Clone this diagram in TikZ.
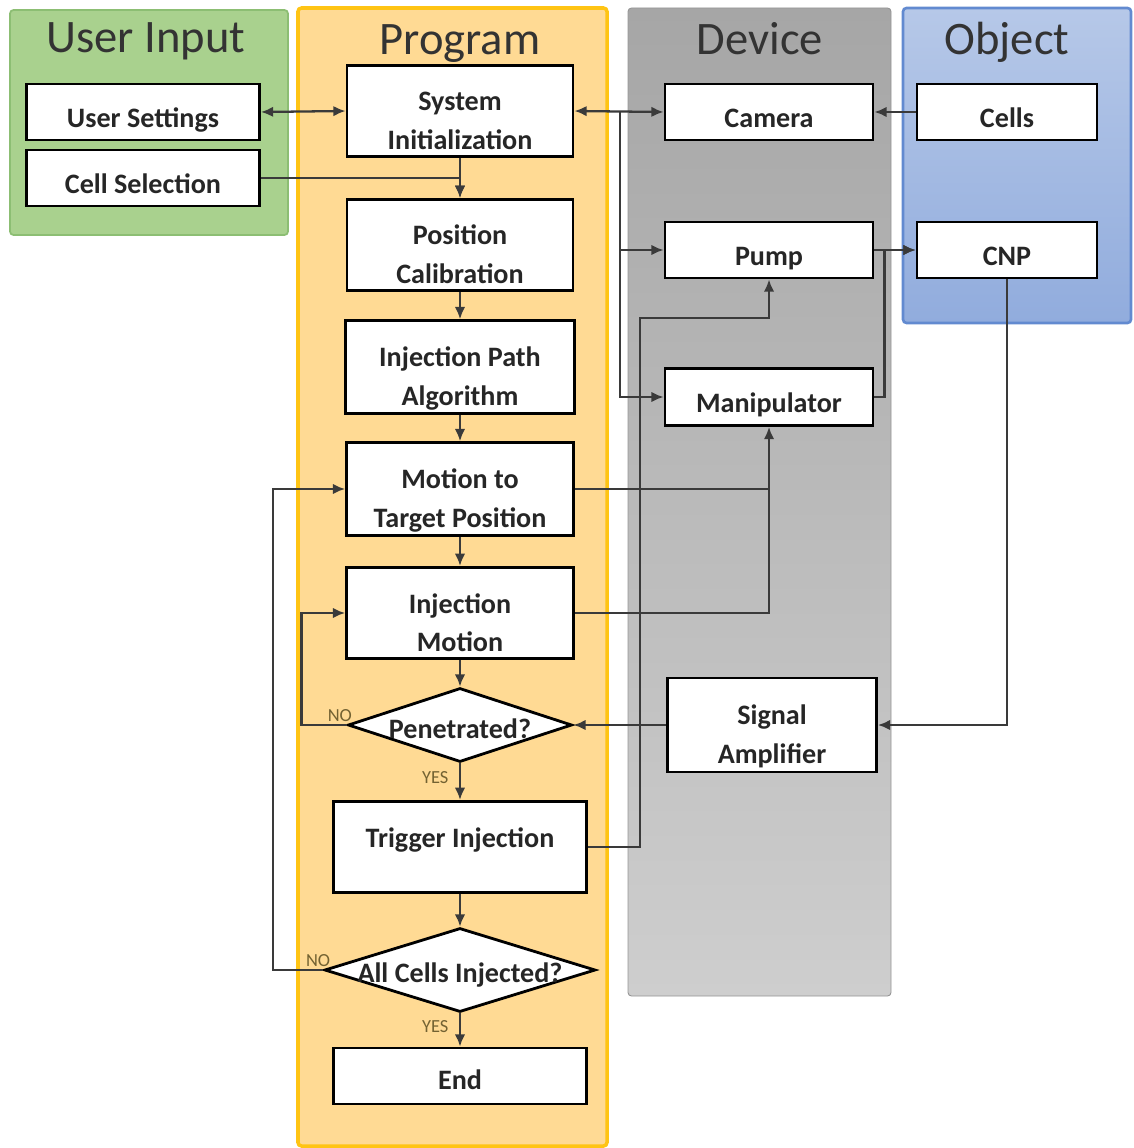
\documentclass[tikz,border=0pt]{standalone}
\usepackage{fontspec}
\setmainfont{Carlito}
\usetikzlibrary{arrows.meta,shapes.geometric}
\definecolor{inputgreen}{RGB}{169,209,142}
\definecolor{inputedge}{RGB}{140,190,115}
\definecolor{progfill}{RGB}{255,218,148}
\definecolor{progedge}{RGB}{255,196,20}
\definecolor{devtop}{RGB}{166,166,166}
\definecolor{devbot}{RGB}{206,206,206}
\definecolor{objtop}{RGB}{182,200,232}
\definecolor{objbot}{RGB}{145,172,221}
\definecolor{objedge}{RGB}{98,138,208}
\definecolor{wire}{RGB}{58,58,58}
\definecolor{choice}{RGB}{115,98,50}

\begin{document}
\begin{tikzpicture}[x=0.02cm, y=-0.02cm,
    boxfont/.style={font=\fontsize{16}{22}\selectfont\bfseries, text=black!85,
      execute at begin node={\rule{0pt}{#1}}, execute at end node={\rule[-2pt]{0pt}{2pt}}},
    boxfont/.default=17pt,
    box/.style={draw=black, line width=1.6pt, fill=white, inner sep=2pt, align=center, boxfont=#1},
    box/.default=20pt,
    twolines/.style={box=46pt},
    decide/.style={draw=black, line width=1.6pt, fill=white, diamond, inner sep=0pt},
    title/.style={font=\fontsize{26.5}{30}\selectfont, text=black!80, anchor=base},
    wireline/.style={draw=wire, line width=1.3pt},
    arr/.style={wireline, -{Latex[length=7pt,width=6pt]}},
    dblarr/.style={wireline, {Latex[length=7pt,width=6pt]}-{Latex[length=7pt,width=6pt]}},
    choicelabel/.style={font=\fontsize{10.5}{11}\selectfont, text=choice, inner sep=1pt}]
		\useasboundingbox (0,0) rectangle (1133,1148);
		%%%%% LANES %%%%%
		\draw[draw=inputedge, line width=1pt, fill=inputgreen, rounded corners=2pt] (10,10) rectangle (288,235);
		\draw[draw=progedge, line width=2pt, fill=progfill, rounded corners=2pt] (298,8) rectangle (607,1146);
		\draw[draw=devtop!90!black, line width=0.5pt, top color=devtop, bottom color=devbot, rounded corners=2pt] (628,8) rectangle (891,996);
		\draw[draw=objedge, line width=1.5pt, top color=objtop, bottom color=objbot, rounded corners=2pt] (903,8) rectangle (1131,323);
		
		\node[title] (tinput) at (146,53) {User Input};
		\node[title] (tprog) at (460,55) {Program};
		\node[title] (tdev) at (760,55) {Device};
		\node[title] (tobj) at (1007,55) {Object};
		
		%%%%% BOXES %%%%%
		\node[box, minimum width=4.66cm, minimum height=1.12cm] (uset) at (143,112) {User Settings};
		\node[box, minimum width=4.66cm, minimum height=1.12cm] (cellsel) at (143,178) {Cell Selection};
		
		\node[twolines, minimum width=4.52cm, minimum height=1.82cm] (sysinit) at (460,111) {System\\Initialization};
		\node[twolines, minimum width=4.52cm, minimum height=1.82cm] (poscal) at (460,245) {Position\\Calibration};
		\node[twolines, minimum width=4.58cm, minimum height=1.82cm] (injpath) at (460,367) {Injection Path\\Algorithm};
		\node[twolines, minimum width=4.54cm, minimum height=1.82cm] (motion) at (460,489) {Motion to\\Target Position};
		\node[twolines, minimum width=4.54cm, minimum height=1.80cm] (injmot) at (460,613) {Injection\\Motion};
		\node[decide, minimum width=4.48cm, minimum height=1.48cm,
		  label={[boxfont]center:Penetrated?}] (pen) at (460,725) {};
		\node[twolines, minimum width=5.06cm, minimum height=1.80cm] (trig) at (460,847) {Trigger Injection\\\mbox{}};
		\node[decide, minimum width=5.42cm, minimum height=1.68cm,
		  label={[boxfont]center:All Cells Injected?}] (allc) at (460,970) {};
		\node[box=17pt, minimum width=5.06cm, minimum height=1.12cm] (endb) at (460,1076) {End};
		
		\node[box, minimum width=4.16cm, minimum height=1.12cm] (camera) at (769,112) {Camera};
		\node[box, minimum width=4.16cm, minimum height=1.12cm] (pump) at (769,250) {Pump};
		\node[box, minimum width=4.16cm, minimum height=1.14cm] (manip) at (769,397) {Manipulator};
		\node[twolines, minimum width=4.18cm, minimum height=1.88cm] (sigamp) at (772,725) {Signal\\Amplifier};
		
		\node[box, minimum width=3.6cm, minimum height=1.12cm] (cells) at (1007,112) {Cells};
		\node[box, minimum width=3.6cm, minimum height=1.12cm] (cnp) at (1007,250) {CNP};
		
		%%%%% CONNECTORS %%%%%
		\coordinate (split) at (620,112);
		\coordinate (trigup) at (640,318);
		
		\draw[dblarr] (uset.east) -- (sysinit.west);
		\draw[arr] (cellsel.east) -- (cellsel.east -| poscal.north) -- (poscal.north);
		\draw[arr] (sysinit.south) -- (poscal.north);
		\draw[arr] (poscal) -- (injpath);
		\draw[arr] (injpath) -- (motion);
		\draw[arr] (motion) -- (injmot);
		\draw[arr] (injmot) -- (pen);
		\draw[arr] (pen.south) -- node[choicelabel, left=5pt, pos=0.4] {YES} (trig.north);
		\draw[arr] (trig) -- (allc);
		\draw[arr] (allc.south) -- node[choicelabel, left=5pt, pos=0.4] {YES} (endb.north);
		
		\draw[dblarr] (sysinit.east) -- (camera.west);
		\draw[arr] (split) |- (pump.west);
		\draw[arr] (split) |- (manip.west);
		\draw[arr] (cells) -- (camera);
		\draw[arr] (pump) -- (cnp);
		\draw[arr] (manip.east) -- ++(10,0) |- (cnp.west);
		\draw[arr] (cnp.south) |- (sigamp.east);
		\draw[arr] (sigamp.west) -- (pen.east);
		
		\draw[arr] (motion.east) -| (manip.south);
		\draw[wireline] (injmot.east) -| (manip.south |- motion.east);
		\draw[arr] (trig.east) -| (trigup) -| (pump.south);
		
		\draw[arr] (pen.west) -- node[choicelabel, above, pos=0.15] {NO} ++(-45,0) |- (injmot.west);
		\draw[arr] (allc.west) -- node[choicelabel, above, pos=0.1] {NO} ++(-50,0) |- (motion.west);
		%%%%% END %%%%%
\end{tikzpicture}
\end{document}
